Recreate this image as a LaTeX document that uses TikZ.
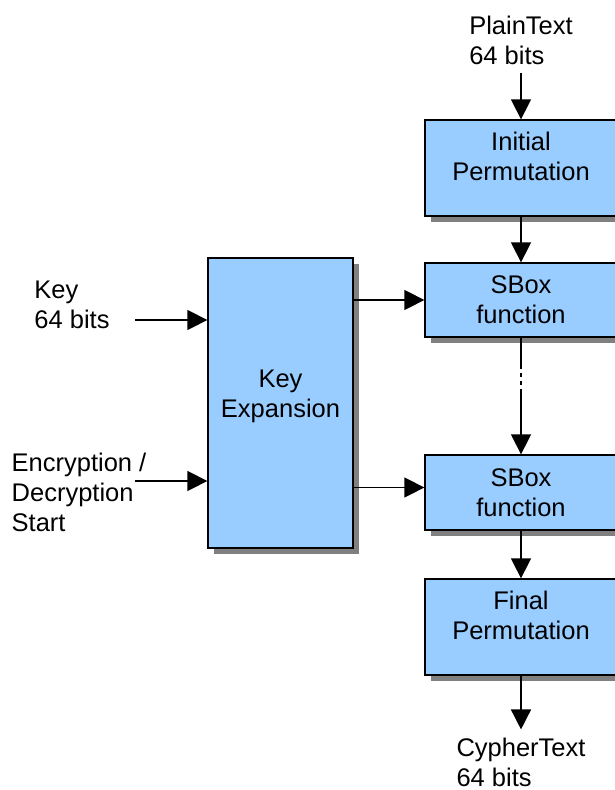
\documentclass[tikz,border=0pt]{standalone}
\usepackage{fontspec}
\setmainfont{Liberation Sans}
\usetikzlibrary{arrows.meta,shadows,positioning}
\definecolor{boxblue}{RGB}{153,204,255}
\definecolor{shadowgray}{RGB}{128,128,128}
\tikzset{
    box/.style={draw, fill=boxblue, line width=1.3pt, align=center, inner sep=0pt,
        drop shadow={shadow xshift=6pt, shadow yshift=-6pt, fill=shadowgray, opacity=1}},
    arr/.style={line width=1.5pt, -{Triangle[width=20pt,length=20pt]}},
    txt/.style={align=left, inner sep=0pt},
}
\begin{document}
\begin{tikzpicture}[x=1pt, y=-1pt, font=\fontsize{25.5}{30}\selectfont]
    \useasboundingbox (0,0) rectangle (614,790);

    % data path
    \node[txt] (pt) at (521,40) {PlainText\\64 bits};
    \node[box, minimum width=192pt, minimum height=96pt] (ip) at (521,168) {Initial\\Permutation\\[-6pt]\mbox{}};
    \node[box, minimum width=192pt, minimum height=74pt] (sb1) at (521,300) {SBox\\function};
    \node[box, minimum width=192pt, minimum height=75pt] (sb2) at (521,492.5) {SBox\\function};
    \node[box, minimum width=192pt, minimum height=96pt] (fp) at (521,627) {Final\\Permutation\\[-6pt]\mbox{}};
    \node[txt] (ct) at (521,762) {CypherText\\64 bits};

    % key schedule
    \node[box, minimum width=145pt, minimum height=290pt] (kx) at (280.5,403) {Key\\Expansion\\[-11pt]\mbox{}};
    \node[txt] (kl) at (72,305) {Key\\64 bits};
    \node[txt] (el) at (79,492) {Encryption /\\Decryption\\Start};
    \coordinate (kin) at (135,320);
    \coordinate (ein) at (135,481);

    \draw[arr, shorten <=8pt] (pt) -- (ip);
    \draw[arr] (ip) -- (sb1);
    \draw[arr, dash pattern=on 31pt off 4pt on 4pt off 4pt on 4pt off 4pt on 100pt] (sb1) -- (sb2);
    \draw[arr] (sb2) -- (fp);
    \draw[arr, shorten >=8pt] (fp) -- (ct);

    \draw[arr] (kin) -- (kin -| kx.west);
    \draw[arr] (ein) -- (ein -| kx.west);
    \draw[arr] (kx.east |- sb1.west) -- (sb1.west);
    \draw[arr] ([yshift=5pt]kx.east |- sb2.west) -- ([yshift=5pt]sb2.west);
\end{tikzpicture}
\end{document}
